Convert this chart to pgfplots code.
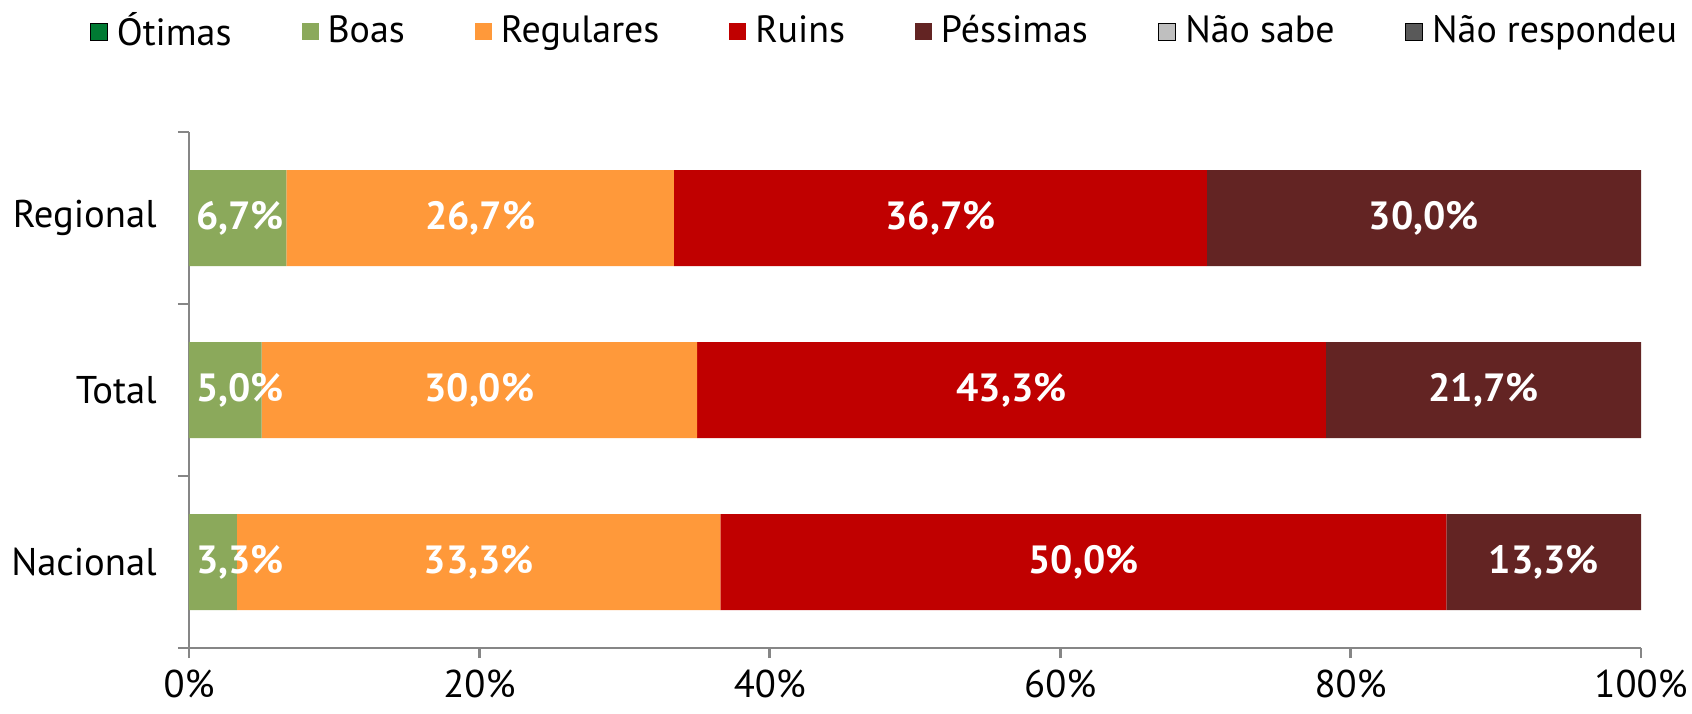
\documentclass[border=0pt]{standalone}
\usepackage{fontspec}
\setmainfont{PT Sans}
\usepackage{pgfplots}
\pgfplotsset{compat=1.18}

\definecolor{otimas}{RGB}{0,122,51}
\definecolor{boas}{RGB}{139,169,91}
\definecolor{regulares}{RGB}{255,153,58}
\definecolor{ruins}{RGB}{192,0,0}
\definecolor{pessimas}{RGB}{99,36,35}
\definecolor{naosabe}{RGB}{191,191,191}
\definecolor{naoresp}{RGB}{89,89,89}
\definecolor{axisgray}{RGB}{134,134,134}

\pgfplotsset{
    frame/.style={at={(0,0)}, anchor=south west, scale only axis,
        width=145.2mm, height=51.6mm,
        xmin=0, xmax=100, ymin=-0.5, ymax=2.5},
}

\begin{document}
\begin{tikzpicture}[font=\fontsize{11}{13}\selectfont]
\useasboundingbox (-18.9mm,-6.5mm) rectangle (150.3mm,64.8mm);
\begin{axis}[
    frame,
    xbar stacked,
    bar width=9.6mm,
    axis x line*=bottom,
    axis y line*=left,
    axis line style={draw=axisgray, line width=0.8pt, -},
    tick style={draw=axisgray, line width=0.8pt},
    tick align=outside,
    xtick={0,20,40,60,80,100},
    xticklabel={\pgfmathprintnumber{\tick}\%},
    major tick length=1mm,
    ytick={0,1,2},
    yticklabels={Nacional,Total,Regional},
    yticklabel style={xshift=-1mm},
    y tick style={draw=none},
    extra y ticks={-0.5,0.5,1.5,2.5},
    extra y tick labels={},
    extra y tick style={y tick style={draw=axisgray}, major tick length=1.1mm},
    /pgf/number format/assume math mode=true,
    legend image code/.code={\fill[#1] (0mm,-0.85mm) rectangle (1.7mm,0.85mm);},
    legend columns=-1,
    legend style={at={(-0.069,1.194)}, anchor=west, draw=none, fill=none,
        inner sep=0pt, nodes={inner sep=0.5mm},
        font=\fontsize{10.8}{13}\selectfont,
        /tikz/every odd column/.append style={column sep=0.4mm},
        /tikz/every even column/.append style={column sep=6.5mm}},
]
\addlegendimage{fill=otimas}
\addlegendentry{Ótimas}
\addplot[fill=boas, draw=none] coordinates {(3.3,0) (5.0,1) (6.7,2)};
\addlegendentry{Boas}
\addplot[fill=regulares, draw=none] coordinates {(33.3,0) (30.0,1) (26.7,2)};
\addlegendentry{Regulares}
\addplot[fill=ruins, draw=none] coordinates {(50.0,0) (43.3,1) (36.7,2)};
\addlegendentry{Ruins}
\addplot[fill=pessimas, draw=none] coordinates {(13.4,0) (21.7,1) (29.9,2)};
\addlegendentry{Péssimas}
\addlegendimage{fill=naosabe}
\addlegendentry{Não sabe}
\addlegendimage{fill=naoresp}
\addlegendentry{Não respondeu}
\end{axis}
% data labels, on an overlaid axis of the same size
\begin{axis}[frame, hide axis, clip=false]
\addplot[draw=none, mark=none,
    nodes near coords, point meta=explicit symbolic,
    every node near coord/.style={anchor=center, text=white,
        font=\fontsize{11.2}{14}\selectfont\bfseries}]
    coordinates {(19.95,0) [33,3\%] (61.6,0) [50,0\%] (93.3,0) [13,3\%]
                 (20.0,1) [30,0\%] (56.65,1) [43,3\%] (89.15,1) [21,7\%]
                 (20.05,2) [26,7\%] (51.75,2) [36,7\%] (85.05,2) [30,0\%]};
\addplot[draw=none, mark=none,
    nodes near coords, point meta=explicit symbolic,
    every node near coord/.style={anchor=west, inner xsep=0pt, text=white,
        font=\fontsize{11.2}{14}\selectfont\bfseries}]
    coordinates {(0.45,0) [3,3\%] (0.45,1) [5,0\%] (0.45,2) [6,7\%]};
\end{axis}
\end{tikzpicture}
\end{document}
